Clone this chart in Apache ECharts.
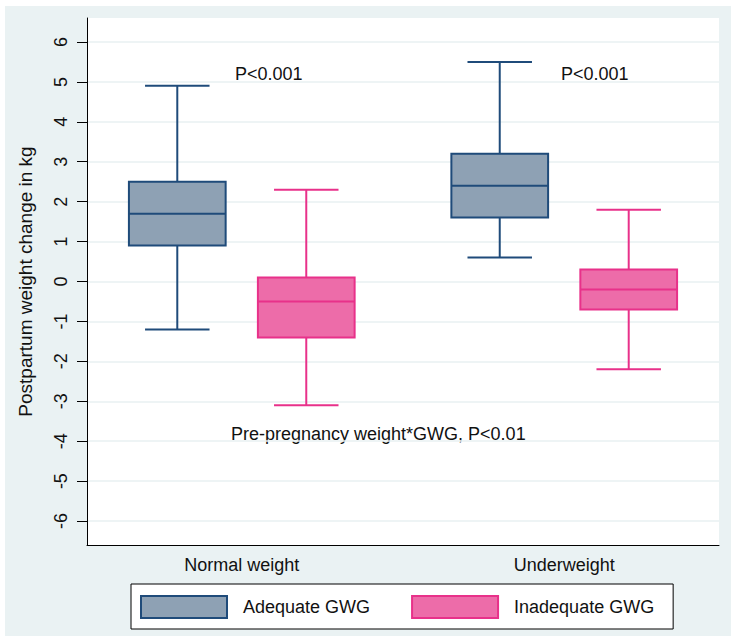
<!DOCTYPE html>
<html>
<head>
<meta charset="utf-8">
<script src="https://cdn.jsdelivr.net/npm/echarts@6/dist/echarts.min.js"></script>
<style>
  html, body { margin: 0; padding: 0; background: #ffffff; }
  #wrap { width: 731px; height: 636px; position: relative; background: #ffffff; overflow: hidden; }
  #chart { position: absolute; left: 5px; top: 6px; width: 726px; height: 630px; background: #EAF2F3; }
</style>
</head>
<body>
<div id="wrap"><div id="chart"></div></div>
<script>
// ---- data ----
const categories = ['Normal weight', 'Underweight'];
const seriesNames = ['Adequate GWG', 'Inadequate GWG'];
// [min, Q1, median, Q3, max] per category
const adequateGWG = [
  [-1.2, 0.9, 1.7, 2.5, 4.9],
  [0.6, 1.6, 2.4, 3.2, 5.5]
];
const inadequateGWG = [
  [-3.1, -1.4, -0.5, 0.1, 2.3],
  [-2.2, -0.7, -0.2, 0.3, 1.8]
];
const yTicks = [-6, -5, -4, -3, -2, -1, 0, 1, 2, 3, 4, 5, 6];
const annotationTexts = ['P<0.001', 'P<0.001', 'Pre-pregnancy weight*GWG, P<0.01'];
const yTitle = 'Postpartum weight change in kg';

// ---- styles ----
const FONT = "'Liberation Sans', Arial, Helvetica, sans-serif";
const TXT = '#111111';
const styles = [
  { fill: '#8EA1B4', stroke: '#1F4B7A', offset: -0.2 },
  { fill: '#ED6CA9', stroke: '#E8318A', offset: 0.2 }
];
const BOX_W = 0.3, CAP_W = 0.2;

function toData(arr) {
  return arr.map((v, i) => [i].concat(v));
}

function makeRender(st) {
  return function (params, api) {
    const x = api.value(0) + st.offset;
    const pMin = api.coord([x, api.value(1)]);
    const pQ1 = api.coord([x, api.value(2)]);
    const pMed = api.coord([x, api.value(3)]);
    const pQ3 = api.coord([x, api.value(4)]);
    const pMax = api.coord([x, api.value(5)]);
    const bw = api.size([BOX_W, 0])[0];
    const cw = api.size([CAP_W, 0])[0];
    const cx = pMed[0];
    const ls = { stroke: st.stroke, lineWidth: 2, fill: null };
    return {
      type: 'group',
      children: [
        { type: 'line', shape: { x1: cx, y1: pQ3[1], x2: cx, y2: pMax[1] }, style: ls },
        { type: 'line', shape: { x1: cx, y1: pQ1[1], x2: cx, y2: pMin[1] }, style: ls },
        { type: 'line', shape: { x1: cx - cw / 2, y1: pMax[1], x2: cx + cw / 2, y2: pMax[1] }, style: ls },
        { type: 'line', shape: { x1: cx - cw / 2, y1: pMin[1], x2: cx + cw / 2, y2: pMin[1] }, style: ls },
        { type: 'rect', shape: { x: cx - bw / 2, y: pQ3[1], width: bw, height: pQ1[1] - pQ3[1] },
          style: { fill: st.fill, stroke: st.stroke, lineWidth: 2 } },
        { type: 'line', shape: { x1: cx - bw / 2, y1: pMed[1], x2: cx + bw / 2, y2: pMed[1] }, style: ls }
      ]
    };
  };
}

const chart = echarts.init(document.getElementById('chart'), null, { renderer: 'svg' });

const option = {
  backgroundColor: 'transparent',
  animation: false,
  textStyle: { fontFamily: FONT },
  grid: {
    left: 82, top: 12, right: 12, bottom: 91,
    show: true, backgroundColor: '#ffffff', borderWidth: 0
  },
  legend: {
    left: 126, top: 578,
    orient: 'horizontal',
    itemWidth: 86, itemHeight: 22, itemGap: 41,
    padding: [11, 19, 10, 9],
    borderColor: '#000000', borderWidth: 1, backgroundColor: '#ffffff',
    selectedMode: false,
    textStyle: { fontSize: 18, color: TXT, fontFamily: FONT, padding: [0, 0, 0, 11] },
    data: seriesNames.map((n, i) => ({
      name: n, icon: 'rect',
      itemStyle: { color: styles[i].fill, borderColor: styles[i].stroke, borderWidth: 2 }
    }))
  },
  xAxis: {
    type: 'value', min: -0.48, max: 1.48,
    axisLine: { show: true, onZero: false, lineStyle: { color: '#000000', width: 1 } },
    axisTick: { show: false },
    splitLine: { show: false },
    axisLabel: {
      customValues: categories.map((c, i) => i),
      formatter: v => categories[Math.round(v)] || '',
      fontSize: 18, color: TXT, fontFamily: FONT, margin: 11
    }
  },
  yAxis: {
    type: 'value', min: -6.6, max: 6.6,
    name: yTitle, nameLocation: 'middle', nameRotate: 90, nameGap: 52,
    nameTextStyle: { fontSize: 19, color: TXT, fontFamily: FONT },
    axisLine: { show: true, onZero: false, lineStyle: { color: '#000000', width: 1 } },
    axisTick: { show: true, customValues: yTicks, length: 10, lineStyle: { color: '#000000', width: 1 } },
    axisLabel: { customValues: yTicks, rotate: 90, fontSize: 18, color: TXT, fontFamily: FONT, margin: 17 },
    splitLine: { show: true, lineStyle: { color: '#E9F1F2', width: 1.5 } }
  },
  graphic: [
    { type: 'text', left: 230, top: 67.5 - 9, silent: true,
      style: { text: annotationTexts[0], font: '18px ' + FONT, fill: TXT } },
    { type: 'text', left: 556, top: 67.5 - 9, silent: true,
      style: { text: annotationTexts[1], font: '18px ' + FONT, fill: TXT } },
    { type: 'text', left: 226, top: 428 - 9, silent: true,
      style: { text: annotationTexts[2], font: '18px ' + FONT, fill: TXT } }
  ],
  series: [
    {
      name: seriesNames[0], type: 'custom', z: 3,
      itemStyle: { color: styles[0].fill, borderColor: styles[0].stroke },
      encode: { x: 0, y: [1, 2, 3, 4, 5] },
      renderItem: makeRender(styles[0]),
      data: toData(adequateGWG)
    },
    {
      name: seriesNames[1], type: 'custom', z: 3,
      itemStyle: { color: styles[1].fill, borderColor: styles[1].stroke },
      encode: { x: 0, y: [1, 2, 3, 4, 5] },
      renderItem: makeRender(styles[1]),
      data: toData(inadequateGWG)
    }
  ]
};

chart.setOption(option);
</script>
</body>
</html>
